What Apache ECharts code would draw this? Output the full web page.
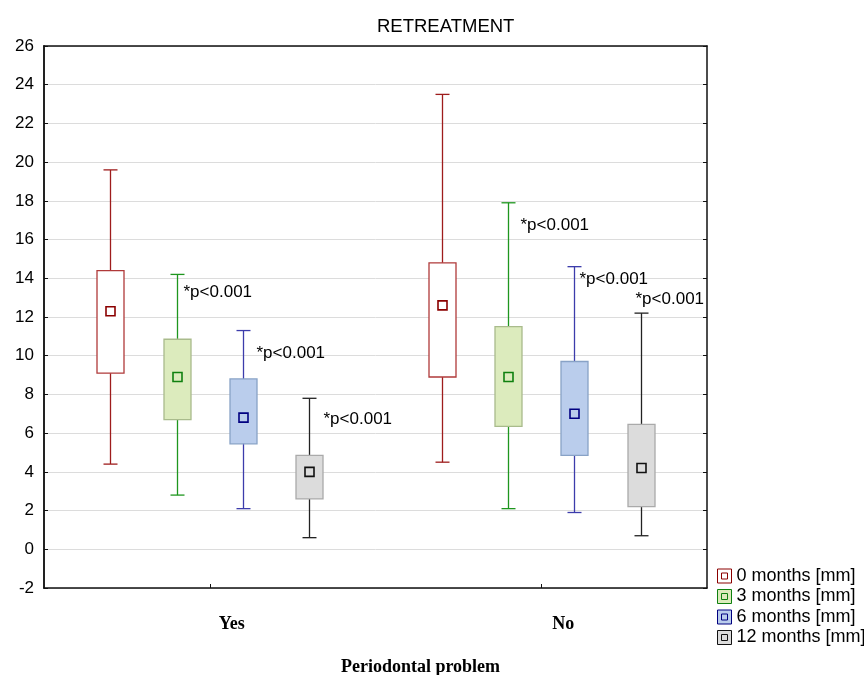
<!DOCTYPE html>
<html>
<head>
<meta charset="utf-8">
<title>RETREATMENT</title>
<script src="https://cdn.jsdelivr.net/npm/echarts@6.0.0/dist/echarts.min.js"></script>
<style>
html, body { margin: 0; padding: 0; background: #fff; }
#main { width: 864px; height: 675px; }
</style>
</head>
<body>
<div id="main"></div>
<script type="text/javascript">
// categories and series
var categories = ['Yes', 'No'];
var seriesNames = ['0 months [mm]', '3 months [mm]', '6 months [mm]', '12 months [mm]'];

// [min, q1, mean, q3, max] for Yes, No
var months0 = [[4.4, 9.1, 12.3, 14.4, 19.6], [4.5, 8.9, 12.6, 14.8, 23.5]];
var months3 = [[2.8, 6.7, 8.9, 10.85, 14.2], [2.1, 6.35, 8.9, 11.5, 17.9]];
var months6 = [[2.1, 5.45, 6.8, 8.8, 11.3], [1.9, 4.85, 7.0, 9.7, 14.6]];
var months12 = [[0.6, 2.6, 4.0, 4.85, 7.8], [0.7, 2.2, 4.2, 6.45, 12.2]];

// significance notes per series, per category
var pNotes = [
    ['', ''],
    ['*p<0.001', '*p<0.001'],
    ['*p<0.001', '*p<0.001'],
    ['*p<0.001', '*p<0.001']
];

var yMin = -2, yMax = 26, yStep = 2;

// styles
var sans = 'Liberation Sans, Arial, sans-serif';
var serif = 'Liberation Serif, Times New Roman, serif';
var looks = [
    {whisker: '#9e1c1c', fill: '#ffffff', border: '#b03a3a', mean: '#8b0000'},
    {whisker: '#1e961e', fill: '#dcebbd', border: '#a9bb8c', mean: '#0f800f'},
    {whisker: '#3c3cab', fill: '#bacdec', border: '#88a2c6', mean: '#000080'},
    {whisker: '#222222', fill: '#dcdcdc', border: '#aaaaaa', mean: '#111111'}
];
// where each note sits relative to the whisker top (px)
var noteShift = [
    [[0, 0], [0, 0]],
    [[6, 18], [12, 23]],
    [[13, 23], [5, 13]],
    [[14, 21], [-6, -14]]
];

var allData = [months0, months3, months6, months12];

var myChart = echarts.init(document.getElementById('main'));

function makeRender(si) {
    var lk = looks[si];
    return function (params, api) {
        var c = api.value(0);
        var bw = api.size([1, 0])[0];
        var x = Math.round(api.coord([c, 0])[0] + (si - 1.5) * 0.2 * bw) + 0.5;
        var pMin = api.coord([c, api.value(1)])[1];
        var pQ1 = api.coord([c, api.value(2)])[1];
        var pMean = api.coord([c, api.value(3)])[1];
        var pQ3 = api.coord([c, api.value(4)])[1];
        var pMax = api.coord([c, api.value(5)])[1];
        var half = 13.5, cap = 7, m = 4.5;
        var lineStyle = {stroke: lk.whisker, lineWidth: 1.3};
        var kids = [
            {type: 'line', shape: {x1: x, y1: pMax, x2: x, y2: pMin}, style: lineStyle},
            {type: 'line', shape: {x1: x - cap, y1: pMax, x2: x + cap, y2: pMax}, style: lineStyle},
            {type: 'line', shape: {x1: x - cap, y1: pMin, x2: x + cap, y2: pMin}, style: lineStyle},
            {type: 'rect', shape: {x: x - half, y: pQ3, width: half * 2, height: pQ1 - pQ3},
                style: {fill: lk.fill, stroke: lk.border, lineWidth: 1.3}},
            {type: 'rect', shape: {x: x - m, y: pMean - m, width: m * 2, height: m * 2},
                style: {fill: lk.fill, stroke: lk.mean, lineWidth: 1.6}}
        ];
        var note = pNotes[si][params.dataIndex];
        if (note) {
            var sh = noteShift[si][params.dataIndex];
            kids.push({
                type: 'text',
                x: x + sh[0],
                y: pMax + sh[1],
                style: {text: note, fill: '#000', fontSize: 17, fontFamily: sans,
                    align: 'left', verticalAlign: 'middle'}
            });
        }
        return {type: 'group', children: kids};
    };
}

var series = [];
var legendData = [];
for (var i = 0; i < allData.length; i++) {
    var rows = [];
    for (var j = 0; j < categories.length; j++) {
        rows.push([j].concat(allData[i][j]));
    }
    series.push({
        name: seriesNames[i],
        type: 'custom',
        renderItem: makeRender(i),
        encode: {x: 0, y: [1, 2, 3, 4, 5]},
        itemStyle: {color: looks[i].fill, borderColor: looks[i].mean},
        data: rows,
        silent: true
    });
    legendData.push({
        name: seriesNames[i],
        icon: 'path://M0,0H14V14H0Z M4,4H10V10H4Z',
        itemStyle: {color: looks[i].fill, borderColor: looks[i].mean, borderWidth: 1}
    });
}

var option = {
    animation: false,
    backgroundColor: '#fff',
    title: {
        text: 'RETREATMENT',
        left: 372,
        top: 12,
        textStyle: {fontFamily: sans, fontSize: 18.5, fontWeight: 'normal', color: '#000'}
    },
    legend: {
        orient: 'vertical',
        left: 712,
        top: 562,
        itemWidth: 14,
        itemHeight: 14,
        itemGap: 2.5,
        data: legendData,
        textStyle: {fontFamily: sans, fontSize: 18, color: '#000', lineHeight: 18}
    },
    grid: {left: 44, right: 157, top: 46, bottom: 87, containLabel: false, outerBoundsMode: 'none'},
    xAxis: [
        {
            type: 'category',
            data: categories,
            position: 'bottom',
            axisLine: {onZero: false, lineStyle: {color: '#111', width: 1.5}},
            axisTick: {show: true, alignWithLabel: true, inside: true, length: 4, lineStyle: {color: '#111'}},
            axisLabel: {
                margin: 27,
                padding: [0, 0, 0, 44],
                fontFamily: serif, fontWeight: 'bold', fontSize: 18, color: '#000'
            },
            name: 'Periodontal problem',
            nameLocation: 'middle',
            nameGap: 70,
            nameTextStyle: {fontFamily: serif, fontWeight: 'bold', fontSize: 18, color: '#000', padding: [0, 0, 0, 90]},
            splitLine: {show: false}
        },
        {
            type: 'category',
            data: categories,
            position: 'top',
            axisLine: {onZero: false, lineStyle: {color: '#111', width: 1.5}},
            axisTick: {show: false},
            axisLabel: {show: false}
        }
    ],
    yAxis: [
        {
            type: 'value',
            min: yMin,
            max: yMax,
            interval: yStep,
            position: 'left',
            axisLine: {show: true, onZero: false, lineStyle: {color: '#222', width: 2}},
            axisTick: {show: true, inside: true, length: 4, lineStyle: {color: '#111'}},
            axisLabel: {fontFamily: sans, fontSize: 17, color: '#000', margin: 10},
            splitLine: {show: true, lineStyle: {color: '#dcdcdc', width: 1}}
        },
        {
            type: 'value',
            min: yMin,
            max: yMax,
            interval: yStep,
            position: 'right',
            axisLine: {show: true, onZero: false, lineStyle: {color: '#111', width: 1.5}},
            axisTick: {show: true, inside: true, length: 4, lineStyle: {color: '#111'}},
            axisLabel: {show: false},
            splitLine: {show: false}
        }
    ],
    series: series
};

myChart.setOption(option);
</script>
</body>
</html>
